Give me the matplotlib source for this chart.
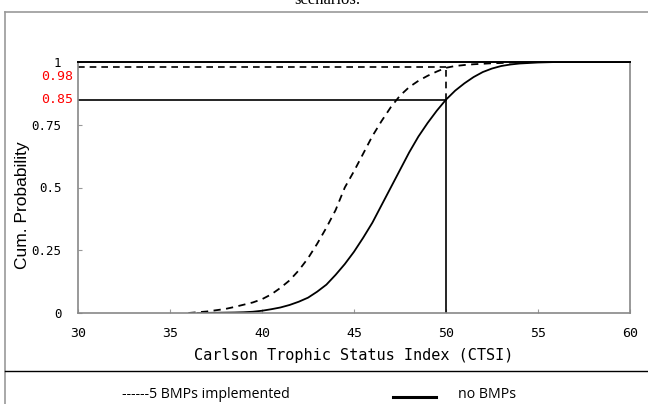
import matplotlib
matplotlib.use("Agg")
import matplotlib.pyplot as plt
from matplotlib.lines import Line2D
import matplotlib.transforms as mtransforms

# ---- data ----
ctsi_no = [36.5, 37, 37.5, 38, 38.5, 39, 39.5, 40, 40.5, 41, 41.5, 42, 42.5, 43, 43.5, 44, 44.5,
           45, 45.5, 46, 46.5, 47, 47.5, 48, 48.5, 49, 49.5, 50, 50.5, 51, 51.5, 52, 52.5, 53,
           53.5, 54, 54.5, 55, 55.5, 56, 60]
prob_no = [0.0, 0.0005, 0.001, 0.0015, 0.002, 0.003, 0.005, 0.009, 0.015, 0.022, 0.032, 0.045,
           0.061, 0.085, 0.113, 0.152, 0.195, 0.244, 0.30, 0.36, 0.43, 0.50, 0.57, 0.64, 0.703,
           0.757, 0.806, 0.85, 0.886, 0.915, 0.94, 0.96, 0.974, 0.984, 0.99, 0.994, 0.996, 0.998,
           0.999, 1.0, 1.0]

ctsi_bmp = [36, 36.5, 37, 37.5, 38, 38.5, 39, 39.5, 40, 40.5, 41, 41.5, 42, 42.5, 43, 43.5, 44,
            44.5, 45, 45.5, 46, 46.5, 47, 47.5, 48, 48.5, 49, 49.5, 50, 50.5, 51, 51.5, 52, 52.5,
            53, 53.5, 54, 54.5, 60]
prob_bmp = [0.0, 0.003, 0.006, 0.011, 0.016, 0.024, 0.033, 0.042, 0.055, 0.074, 0.10, 0.13, 0.17,
            0.218, 0.276, 0.34, 0.41, 0.50, 0.565, 0.635, 0.705, 0.765, 0.82, 0.866, 0.90, 0.925,
            0.945, 0.962, 0.977, 0.984, 0.988, 0.991, 0.993, 0.995, 0.996, 0.998, 0.999, 1.0, 1.0]

threshold = 50
p_no_at_thr = 0.85
p_bmp_at_thr = 0.98

x_ticks = [30, 35, 40, 45, 50, 55, 60]
y_ticks = [0, 0.25, 0.5, 0.75, 1]
y_tick_labels = ["0", "0.25", "0.5", "0.75", "1"]
red_labels = ["0.98", "0.85"]
red_values = [p_bmp_at_thr, p_no_at_thr]
red_offsets_px = [-9, 0]

W, H = 648, 404
fig = plt.figure(figsize=(W / 100, H / 100), dpi=100)
fig.patch.set_facecolor("white")

mono = ["DejaVu Sans Mono"]

ax = fig.add_axes([78 / W, 1 - 313 / H, 552 / W, 251 / H])
ax.set_xlim(30, 60)
ax.set_ylim(0, 1)

dash = (0, (4, 3))
ax.plot(ctsi_bmp, prob_bmp, color="black", lw=1.3, ls=dash)
ax.plot(ctsi_no, prob_no, color="black", lw=1.3)

# reference lines
ax.plot([30, threshold], [p_no_at_thr, p_no_at_thr], color="black", lw=1.2)
ax.plot([30, threshold], [p_bmp_at_thr, p_bmp_at_thr], color="black", lw=1.2, ls=dash)
ax.plot([threshold, threshold], [0, p_no_at_thr], color="black", lw=1.2)
ax.plot([threshold, threshold], [p_no_at_thr, p_bmp_at_thr], color="black", lw=1.2, ls=dash)

for s in ["left", "bottom", "right"]:
    ax.spines[s].set_color("#888888")
    ax.spines[s].set_linewidth(1.2)
ax.spines["top"].set_color("black")
ax.spines["top"].set_linewidth(1.4)

ax.set_xticks(x_ticks)
ax.set_xticklabels([str(v) for v in x_ticks], fontfamily=mono, fontsize=9.5)
ax.set_yticks(y_ticks)
ax.set_yticklabels(y_tick_labels, fontfamily=mono, fontsize=9)
ax.tick_params(axis="both", direction="in", length=3, color="#999999", width=0.8)
ax.tick_params(axis="x", pad=10)
ax.tick_params(axis="y", pad=12)

for lab, val, off in zip(red_labels, red_values, red_offsets_px):
    tr = ax.get_yaxis_transform() + mtransforms.ScaledTranslation(-5 / 100, off / 100, fig.dpi_scale_trans)
    ax.text(0, val, lab, transform=tr, ha="right", va="center",
            color="red", fontfamily=mono, fontsize=9.5)

ax.set_xlabel("Carlson Trophic Status Index (CTSI)", fontfamily=mono, fontsize=11, labelpad=6)

fig.text(23 / W, 1 - 205 / H, "Cum. Probability", rotation=90, ha="center", va="center",
         fontfamily=["Liberation Sans"], fontsize=12.5)

# frame and caption fragments
fig.add_artist(Line2D([5 / W, 5 / W], [0, 1 - 12 / H], color="#999999", lw=1.2))
fig.add_artist(Line2D([5 / W, 1], [1 - 12 / H, 1 - 12 / H], color="#999999", lw=1.2))
fig.add_artist(Line2D([5 / W, 1], [1 - 371 / H, 1 - 371 / H], color="black", lw=1.0))
fig.text(327 / W, 1 - 0 / H, "scenarios.", ha="center", va="center",
         fontfamily=["Liberation Serif"], fontsize=12)

# legend row
fig.text(122 / W, 1 - 394 / H, "------5 BMPs implemented", ha="left", va="center",
         fontfamily=["Open Sans"], fontsize=10.2)
fig.add_artist(Line2D([393 / W, 436 / W], [1 - 397 / H, 1 - 397 / H], color="black", lw=2.2))
fig.text(458 / W, 1 - 394 / H, "no BMPs", ha="left", va="center",
         fontfamily=["Open Sans"], fontsize=10.2)

fig.savefig("out.png", dpi=100)
